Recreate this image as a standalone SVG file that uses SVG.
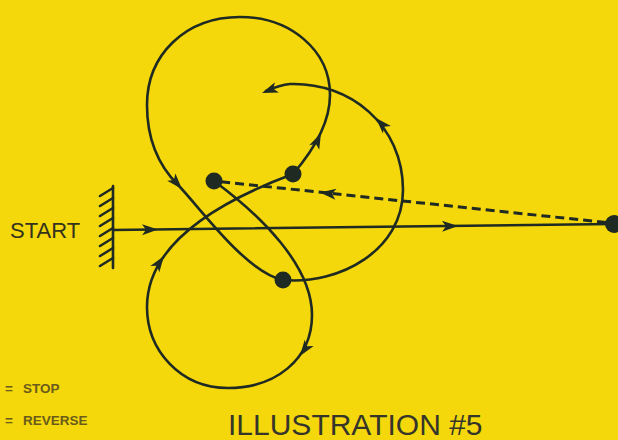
<svg xmlns="http://www.w3.org/2000/svg" xmlns:xlink="http://www.w3.org/1999/xlink" width="618" height="440" viewBox="0 0 618 440">
<defs>
<style>
.ln{fill:none;stroke:#1f2a22;stroke-width:2.6;stroke-linecap:round}
.dash{fill:none;stroke:#1f2a22;stroke-width:3;stroke-dasharray:9 5}
.dot{fill:#1f2a22}
.ah{fill:#1f2a22}
.lbl{font-family:"Liberation Sans",Arial,sans-serif}
</style>
<path id="ah" d="M0,0 L-16,-5.5 L-12,0 L-16,5.5 Z"/>
</defs>
<rect width="618" height="440" fill="#f4d80c"/>
<g id="wall" class="ln">
<line x1="113" y1="186" x2="113" y2="268"/>
<path d="M100,196 L113,188 M100,206 L113,198 M100,216 L113,208 M100,226 L113,218 M100,236 L113,228 M100,246 L113,238 M100,256 L113,248 M100,266 L113,258"/>
</g>
<g id="connectors">
<path class="ln" d="M113,230 L613,224"/>
<path class="dash" d="M606,222.5 L214,181"/>
<path class="ln" d="M214,181 C260,215 312,265 312,315 C312,360 275,388 228,388 C180,388 147,350 147,307 C147,245 215,203 293,174"/>
<path class="ln" d="M293,174 C312,152 330,125 330,95 C330,50 290,17 240,17 C185,17 147,55 147,105 C147,140 158,165 178,185 C198,205 245,272 283,280"/>
<path class="ln" d="M283,280 C340,285 403,250 403,190 C403,125 350,82 290,84 C280,85 273,88 266,91"/>
<g class="ah">
<use xlink:href="#ah" transform="translate(158,229.5) rotate(-0.7)"/>
<use xlink:href="#ah" transform="translate(458,226) rotate(-0.7)"/>
<use xlink:href="#ah" transform="translate(320,192.5) rotate(186)"/>
<use xlink:href="#ah" transform="translate(300,356) rotate(125)"/>
<use xlink:href="#ah" transform="translate(164,256) rotate(-55)"/>
<use xlink:href="#ah" transform="translate(321,133) rotate(-65)"/>
<use xlink:href="#ah" transform="translate(182,189) rotate(48)"/>
<use xlink:href="#ah" transform="translate(376,118) rotate(-133)"/>
<use xlink:href="#ah" transform="translate(262,93) rotate(159)"/>
</g>
</g>
<g id="dot1"><circle class="dot" cx="214" cy="181" r="8.5"/></g>
<g id="dot2"><circle class="dot" cx="293" cy="174" r="8.5"/></g>
<g id="dot3"><circle class="dot" cx="283" cy="280" r="8.5"/></g>
<g id="dot4"><circle class="dot" cx="614" cy="224" r="9"/></g>
<g id="start"><text class="lbl" x="10" y="238" font-size="22" fill="#34321c">START</text></g>
<g id="legend" class="lbl" font-size="13.5" font-weight="bold" fill="#6a5b1a">
<text y="393"><tspan x="5">=</tspan><tspan x="23">STOP</tspan></text>
<text y="425"><tspan x="5">=</tspan><tspan x="23">REVERSE</tspan></text>
</g>
<g id="title"><text class="lbl" x="228" y="435" font-size="30" fill="#36352a">ILLUSTRATION #5</text></g>
</svg>
